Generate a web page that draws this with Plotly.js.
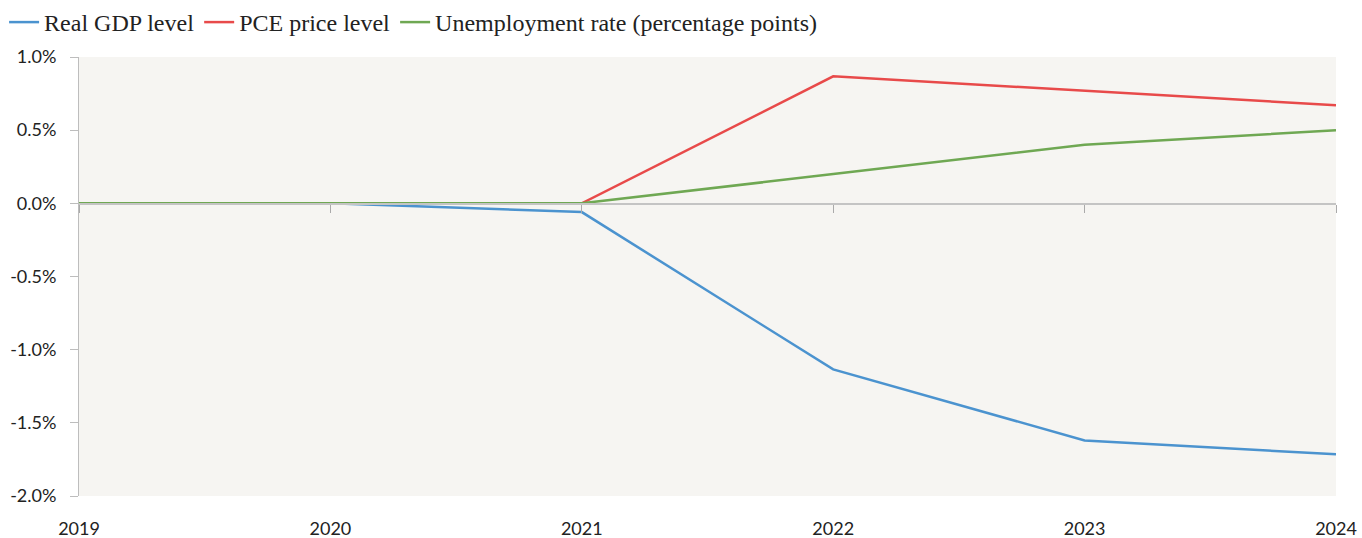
<!DOCTYPE html>
<html><head><meta charset="utf-8">
<script src="https://cdn.plot.ly/plotly-3.0.1.min.js"></script>
<style>body{margin:0;background:#fff}#chart{width:1362px;height:538px}</style>
</head><body><div id="chart"></div>
<script>
const years = [2019, 2020, 2021, 2022, 2023, 2024];
const realGDP = [0, 0, -0.06, -1.135, -1.62, -1.715];
const pcePrice = [0, 0, 0, 0.868, 0.77, 0.67];
const unemployment = [0, 0, 0, 0.2, 0.40, 0.50];
const seriesNames = ['Real GDP level', 'PCE price level', 'Unemployment rate (percentage points)'];
const colors = ['#4b93cf', '#e84a4a', '#6fa853'];
const yTicks = [1.0, 0.5, 0.0, -0.5, -1.0, -1.5, -2.0];

const allSeries = [realGDP, pcePrice, unemployment];
const traces = allSeries.map((s, i) => ({
  x: years, y: s, type: 'scatter', mode: 'lines', name: seriesNames[i],
  line: {color: colors[i], width: 2.5}, hoverinfo: 'skip'
}));
// empty carrier trace so the zero-crossing axis (xaxis2) gets drawn
traces.unshift({x: years, y: years.map(() => null), xaxis: 'x2', type: 'scatter', mode: 'lines',
  showlegend: false, hoverinfo: 'skip'});
const yMin = -2.0, yMax = 1.0;
const zeroPos = (0 - yMin) / (yMax - yMin);
const tickFont = {family: 'Lato, sans-serif', size: 18, color: '#222'};
const layout = {
  width: 1362, height: 538,
  margin: {l: 79, r: 26, t: 57, b: 42},
  paper_bgcolor: '#ffffff', plot_bgcolor: '#f6f5f2',
  showlegend: true,
  legend: {orientation: 'h', xref: 'container', yref: 'container', x: 0.003, y: 1.0,
    yanchor: 'top', xanchor: 'left',
    font: {family: '"Liberation Serif", "DejaVu Serif", serif', size: 24, color: '#222'},
    itemwidth: 30, tracegroupgap: 0, bgcolor: 'rgba(0,0,0,0)'},
  xaxis: {range: [years[0], years[years.length - 1]], tickvals: years, ticktext: years.map(String),
    showgrid: false, zeroline: false, showline: false, ticks: '', tickfont: tickFont,
    ticklabelstandoff: 20, automargin: false},
  xaxis2: {overlaying: 'x', matches: 'x', anchor: 'free', position: zeroPos, side: 'bottom',
    tickvals: years, showticklabels: false,
    showgrid: false, zeroline: false, showline: true, linecolor: '#c4c4c4', linewidth: 1.5,
    ticks: 'outside', ticklen: 8, tickcolor: '#aaaaaa', tickwidth: 1, automargin: false},
  yaxis: {range: [yMin, yMax], tickvals: yTicks, ticktext: yTicks.map(v => v.toFixed(1) + '%'),
    showgrid: false, zeroline: false, showline: true, linecolor: '#bdbdbd', linewidth: 1,
    ticks: 'outside', ticklen: 8, tickcolor: '#bdbdbd', tickfont: tickFont,
    ticklabelstandoff: 10, automargin: false}
};
Plotly.newPlot('chart', traces, layout, {displayModeBar: false, staticPlot: true});
</script></body></html>
